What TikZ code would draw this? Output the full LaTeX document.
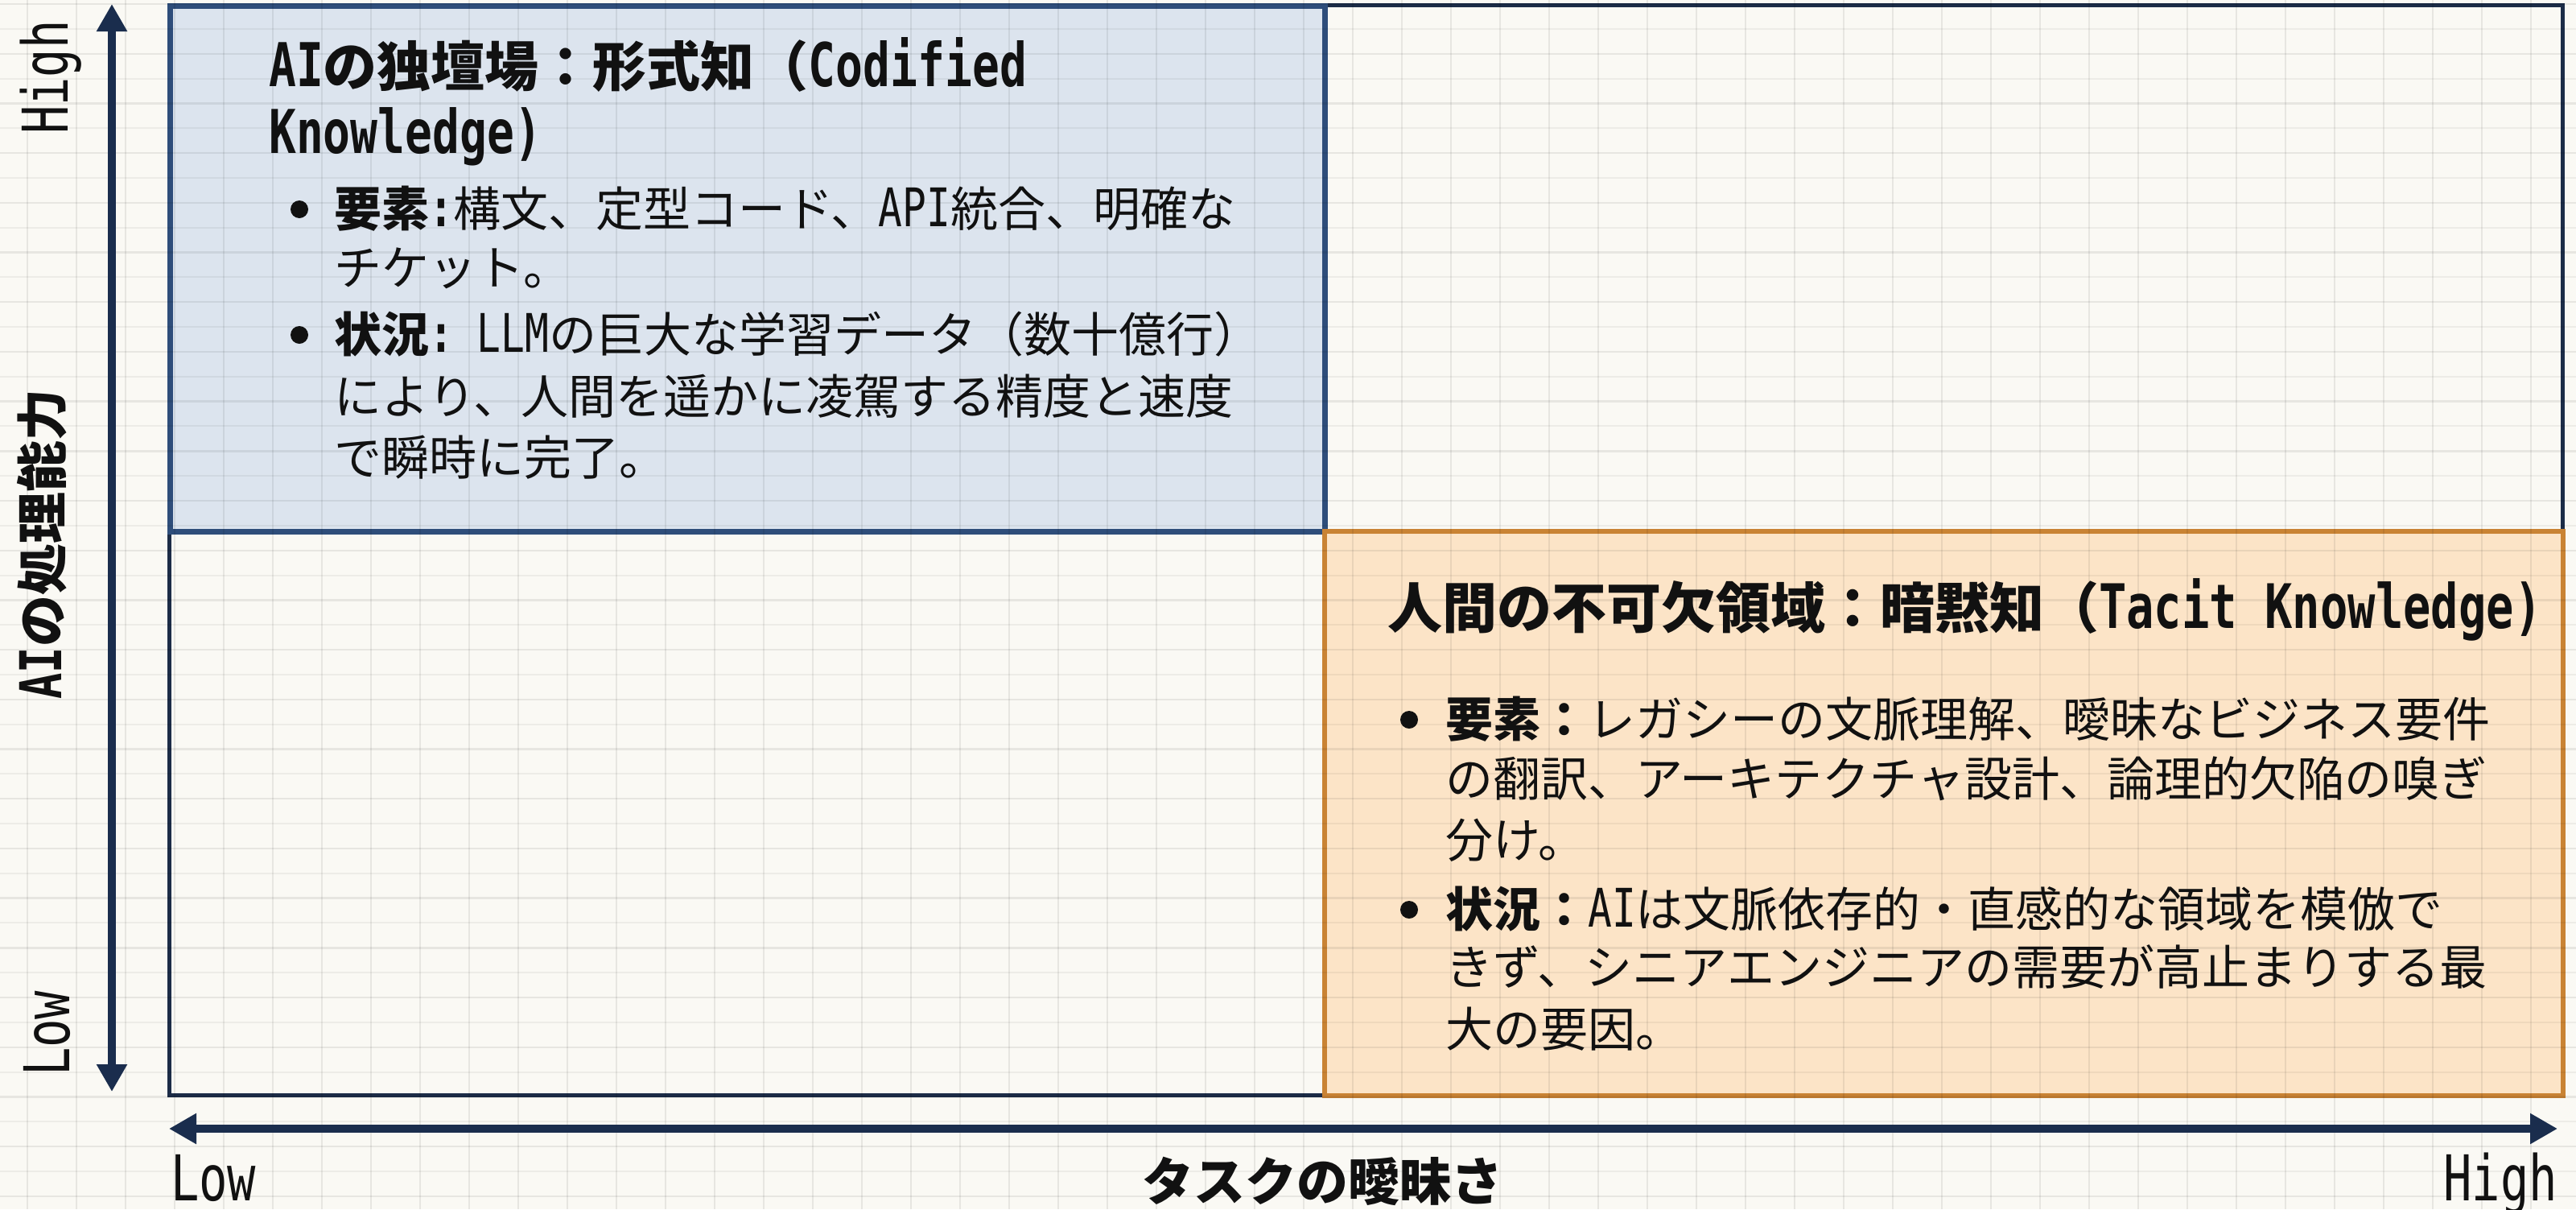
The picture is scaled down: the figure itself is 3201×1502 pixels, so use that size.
\documentclass[tikz,border=0pt]{standalone}
\usepackage{fontspec}
\setmainfont{Noto Sans CJK JP}
\newfontfamily\monof[FakeStretch=0.75,Scale=1.12]{DejaVu Sans Mono}
\newcommand\lt[1]{{\monof #1}}
\usetikzlibrary{arrows.meta}
\definecolor{bgc}{HTML}{FAF9F4}
\definecolor{navy}{HTML}{1C2C47}
\definecolor{arrc}{HTML}{1A2D4D}
\definecolor{bluef}{HTML}{DCE4EE}
\definecolor{blueb}{HTML}{2E4D7A}
\definecolor{orf}{HTML}{FCE4C7}
\definecolor{orb}{HTML}{C98334}
\definecolor{txtc}{HTML}{111111}
\tikzset{
  quadplain/.style={draw=navy,line width=4.5pt,fill=bgc,anchor=north west,inner sep=0pt},
  quadblue/.style={draw=blueb,line width=6.5pt,fill=bluef,anchor=north west,inner sep=0pt},
  quadorange/.style={draw=orb,line width=6pt,fill=orf,anchor=north west,inner sep=0pt},
  gridmaj/.style={black,opacity=0.075,line width=2.4pt},
  gridmin/.style={black,opacity=0.05,line width=2pt},
  txt/.style={anchor=base west,inner sep=0pt,text=txtc,font=\fontsize{59}{59}\selectfont},
  ttl/.style={anchor=base west,inner sep=0pt,text=txtc,font=\fontsize{67}{67}\selectfont\bfseries},
  bul/.style={circle,fill=txtc,inner sep=0pt,minimum size=22pt},
  axlab/.style={inner sep=0pt,text=txtc,font=\fontsize{70}{70}\selectfont},
  axtitle/.style={inner sep=0pt,text=txtc,font=\fontsize{64}{64}\selectfont\bfseries},
  axarrow/.style={draw=arrc,line width=10pt,{Triangle[length=34pt,width=36pt]}-{Triangle[length=34pt,width=36pt]}}
}
\begin{document}
\begin{tikzpicture}[x=1pt,y=-1pt]
\useasboundingbox (0,0) rectangle (3201,1502);
\fill[bgc] (0,0) rectangle (3201,1502);
% quadrants
\node[quadplain,minimum width=1539pt,minimum height=653pt] (qTR) at (1643,4) {};
\node[quadplain,minimum width=1435pt,minimum height=701pt] (qBL) at (208,657) {};
\node[quadblue,minimum width=1435pt,minimum height=653pt] (qTL) at (208,4) {};
\node[quadorange,minimum width=1539pt,minimum height=701pt] (qBR) at (1643,657) {};
% grid
\foreach \i in {0,...,52} \draw[gridmaj] ({34+61*\i},0) -- ({34+61*\i},1502);
\foreach \j in {0,...,24} {
  \draw[gridmaj] (0,{5+61.7*\j}) -- (3201,{5+61.7*\j});
  \draw[gridmin] (0,{35.85+61.7*\j}) -- (3201,{35.85+61.7*\j});
}
% axes
\coordinate (yTop) at (139,5);
\coordinate (yBot) at (139,1356);
\coordinate (xLeft) at (210,1402);
\coordinate (xRight) at (3178,1402);
\draw[axarrow] (yBot) -- (yTop);
\draw[axarrow] (xLeft) -- (xRight);
\node[axlab,rotate=90,anchor=base west] (yHigh) at (84,167) {\lt{High}};
\node[axlab,rotate=90,anchor=base west] (yLow) at (86,1337) {\lt{Low}};
\node[axtitle,rotate=90,anchor=center] (yTitle) at (52,676) {\lt{AI}の処理能力};
\node[axlab,anchor=base west] (xLow) at (212,1491) {\lt{Low}};
\node[axlab,anchor=base east] (xHigh) at (3178,1491) {\lt{High}};
\node[axtitle,anchor=base] (xTitle) at (1643,1491) {タスクの曖昧さ};
% top-left quadrant text
\node[ttl] (tA1) at (334,107) {\lt{AI}の独壇場：形式知（\lt{Codified}};
\node[ttl] (tA2) at (334,190) {\lt{Knowledge)}};
\node[bul] (dA1) at (372,260) {};
\node[txt] (bA1) at (415,281) {{\bfseries 要素\lt{:}}構文、定型コード、\lt{API}統合、明確な};
\node[txt] (bA2) at (415,354) {チケット。};
\node[bul] (dA2) at (372,416) {};
\node[txt] (bA3) at (415,437) {{\bfseries 状況\lt{:}}\lt{\ LLM}の巨大な学習データ（数十億行）};
\node[txt] (bA4) at (415,514) {により、人間を遥かに凌駕する精度と速度};
\node[txt] (bA5) at (415,590) {で瞬時に完了。};
% bottom-right quadrant text
\node[ttl,font=\fontsize{68}{68}\selectfont\bfseries] (tB) at (1724,780) {人間の不可欠領域：暗黙知（\lt{Tacit Knowledge)}};
\node[bul] (dB1) at (1751,894) {};
\node[txt] (bB1) at (1796,915) {{\bfseries 要素：}レガシーの文脈理解、曖昧なビジネス要件};
\node[txt] (bB2) at (1796,989) {の翻訳、アーキテクチャ設計、論理的欠陥の嗅ぎ};
\node[txt] (bB3) at (1796,1065) {分け。};
\node[bul] (dB2) at (1751,1130) {};
\node[txt] (bB4) at (1796,1151) {{\bfseries 状況：}\lt{AI}は文脈依存的・直感的な領域を模倣で};
\node[txt] (bB5) at (1796,1223) {きず、シニアエンジニアの需要が高止まりする最};
\node[txt] (bB6) at (1796,1300) {大の要因。};
\end{tikzpicture}
\end{document}
